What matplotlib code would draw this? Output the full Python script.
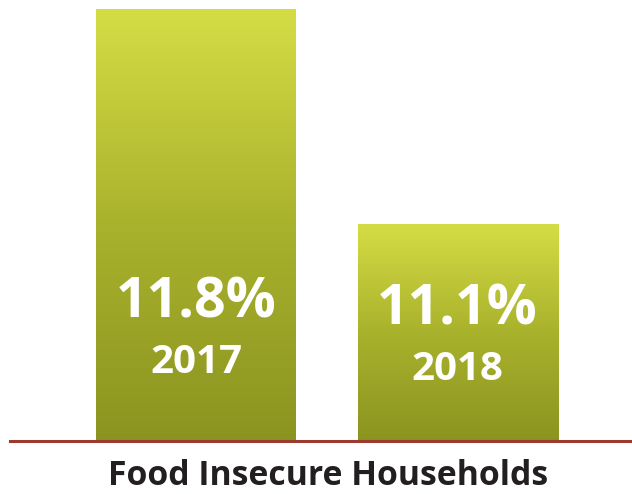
import numpy as np
import matplotlib
matplotlib.use("Agg")
import matplotlib.pyplot as plt
from matplotlib.colors import LinearSegmentedColormap

years = ["2017", "2018"]
values = [11.8, 11.1]
title = "Food Insecure Households"

plt.rcParams["font.family"] = ["Open Sans", "DejaVu Sans"]

W, H = 632, 494
fig = plt.figure(figsize=(W / 100, H / 100), dpi=100)
ax = fig.add_axes([0, 53 / H, 1, 441 / H])

x = np.arange(len(years))
unit = 261.5
ax.set_ylim(10.393, 10.393 + 441 * 0.7 / 215)
ax.axis("off")

# bars with a vertical gradient, dark at the bottom
grad = LinearSegmentedColormap.from_list("g", ["#8b9420", "#a9b22c", "#d5dd45"])
bars = ax.bar(x, values, width=200 / unit, color="none")
ylo = ax.get_ylim()[0]
for b in bars:
    x0, w, top = b.get_x(), b.get_width(), b.get_height()
    img = np.linspace(0, 1, 256).reshape(-1, 1)
    im = ax.imshow(img, cmap=grad, origin="lower", aspect="auto",
                   extent=[x0, x0 + w, ylo, top], zorder=2)
    im.set_clip_path(b)
ax.set_xlim(-196 / unit, (W - 196) / unit)

ax.axhline(ylo, xmin=10 / W, xmax=1, color="#9b3a2f", linewidth=2.2,
           zorder=3, clip_on=False)

# labels inside bars
pct_y = [303, 310]
yr_y = [362, 370]
for i, (yr, v) in enumerate(zip(years, values)):
    fx = ax.transData.transform((x[i], 0))[0] / W
    fig.text(fx, 1 - pct_y[i] / H, f"{v:.1f}%", ha="center", va="center",
             color="white", fontsize=40, fontweight="bold")
    fig.text(fx, 1 - yr_y[i] / H, yr, ha="center", va="center",
             color="white", fontsize=29, fontweight="bold")

fig.text(328 / W, 1 - 476 / H, title, ha="center", va="center",
         color="#231f20", fontsize=24.3, fontweight="bold")

fig.savefig("out.png", dpi=100, facecolor="white")
